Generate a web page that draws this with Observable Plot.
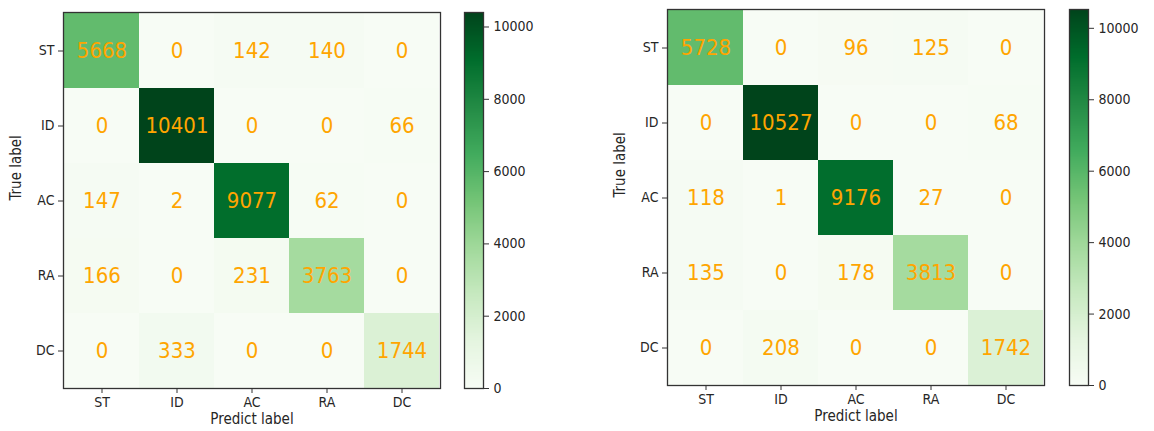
<!DOCTYPE html>
<html>
<head>
<meta charset="utf-8">
<script src="https://cdn.jsdelivr.net/npm/d3@7"></script>
<script src="https://cdn.jsdelivr.net/npm/@observablehq/plot@0.6"></script>
<style>
  html, body { margin: 0; padding: 0; background: #fff; }
  #chart { position: relative; width: 1154px; height: 431px; font-family: "DejaVu Sans Condensed", "DejaVu Sans", sans-serif; }
  #chart > div { position: absolute; top: 0; }
  #chart svg g[aria-label$="tick label"],
  #chart svg g[aria-label$="tick label"] text { font-size: 14px !important; }
</style>
</head>
<body>
<div id="chart"></div>
<script>
// Class labels (rows = true label, columns = predicted label)
const classes = ["ST", "ID", "AC", "RA", "DC"];

// Confusion matrix of the first model
const matrixA = [
  [5668, 0, 142, 140, 0],
  [0, 10401, 0, 0, 66],
  [147, 2, 9077, 62, 0],
  [166, 0, 231, 3763, 0],
  [0, 333, 0, 0, 1744]
];

// Confusion matrix of the second model
const matrixB = [
  [5728, 0, 96, 125, 0],
  [0, 10527, 0, 0, 68],
  [118, 1, 9176, 27, 0],
  [135, 0, 178, 3813, 0],
  [0, 208, 0, 0, 1742]
];

// Colorbar tick values
const colorbarTicks = [0, 2000, 4000, 6000, 8000, 10000];

// ColorBrewer "Greens", linearly interpolated
const greens = ["#f7fcf5", "#e5f5e0", "#c7e9c0", "#a1d99b", "#74c476", "#41ab5d", "#238b45", "#006d2c", "#00441b"];

const FONT = "'DejaVu Sans Condensed', 'DejaVu Sans', sans-serif";
const INK = "#262626";

function greensScale(max) {
  return {
    type: "linear",
    domain: greens.map((_, i) => (i / (greens.length - 1)) * max),
    range: greens,
    interpolate: "rgb"
  };
}

function toCells(matrix) {
  const cells = [];
  matrix.forEach((row, i) => row.forEach((value, j) => {
    cells.push({truth: classes[i], pred: classes[j], value});
  }));
  return cells;
}

function mount(plot, left) {
  const holder = document.createElement("div");
  holder.style.left = left + "px";
  holder.appendChild(plot);
  document.getElementById("chart").appendChild(holder);
}

function drawMatrix(matrix, left, top, bottom) {
  const cells = toCells(matrix);
  const max = d3.max(cells, d => d.value);
  mount(Plot.plot({
    width: 450,
    height: 431,
    marginLeft: 63,
    marginRight: 10,
    marginTop: top,
    marginBottom: 431 - bottom,
    style: {fontFamily: FONT, fontSize: "14px", background: "transparent", color: INK},
    x: {domain: classes, padding: 0},
    y: {domain: classes, padding: 0},
    color: greensScale(max),
    marks: [
      Plot.cell(cells, {x: "pred", y: "truth", fill: "value", inset: 0}),
      Plot.text(cells, {x: "pred", y: "truth", text: d => String(d.value), fill: "#ffa500", fontSize: 22}),
      Plot.frame({stroke: "#333", strokeWidth: 1.3}),
      Plot.axisX({anchor: "bottom", tickSize: 5, tickPadding: 4, fontSize: 14, label: null, stroke: "#333"}),
      Plot.axisY({anchor: "left", tickSize: 5, tickPadding: 4, fontSize: 14, label: null, stroke: "#333"}),
      Plot.text(["True label"], {text: d => d, frameAnchor: "left", dx: -47, rotate: -90, fontSize: 15, fill: INK}),
      Plot.text(["Predict label"], {text: d => d, frameAnchor: "bottom", dy: 35, fontSize: 15, fill: INK})
    ]
  }), left);
}

function drawColorbar(matrix, left, top, bottom) {
  const max = d3.max(matrix.flat());
  mount(Plot.plot({
    width: 80,
    height: 431,
    marginLeft: 10,
    marginRight: 51,
    marginTop: top,
    marginBottom: 431 - bottom,
    style: {fontFamily: FONT, fontSize: "14px", background: "transparent", color: INK},
    x: {domain: [0, 1], axis: null},
    y: {domain: [0, max]},
    color: greensScale(max),
    marks: [
      Plot.raster({x1: 0, x2: 1, y1: 0, y2: max, width: 1, height: 400, fill: (x, y) => y}),
      Plot.frame({stroke: "#333", strokeWidth: 1.3}),
      Plot.axisY(colorbarTicks, {anchor: "right", tickSize: 5, tickPadding: 5, fontSize: 14, label: null, stroke: "#333", tickFormat: d => String(d)})
    ]
  }), left);
}

drawMatrix(matrixA, 0, 12, 388);
drawColorbar(matrixA, 454, 12, 388);
drawMatrix(matrixB, 604, 9, 385);
drawColorbar(matrixB, 1059, 9, 385);
</script>
</body>
</html>
